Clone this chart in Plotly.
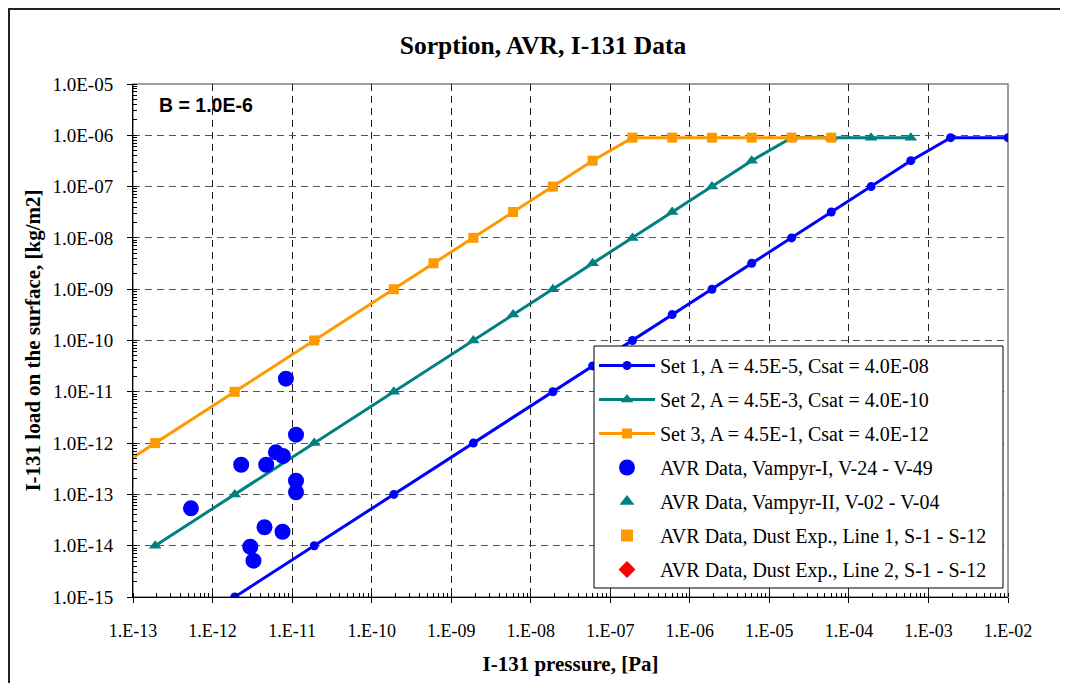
import plotly.graph_objects as go

# ---- data ----
set1_x = [1.9e-12, 1.9e-11, 1.9e-10, 1.9e-9, 1.9e-8, 6e-8, 1.9e-7, 6e-7, 1.9e-6, 6e-6,
          1.9e-5, 6e-5, 1.9e-4, 6e-4, 1.9e-3, 1e-2]
set1_y = [1e-15, 1e-14, 1e-13, 1e-12, 1e-11, 3.2e-11, 1e-10, 3.2e-10, 1e-9, 3.2e-9,
          1e-8, 3.2e-8, 1e-7, 3.2e-7, 9e-7, 9e-7]

set2_x = [1.9e-13, 1.9e-12, 1.9e-11, 1.9e-10, 1.9e-9, 6e-9, 1.9e-8, 6e-8, 1.9e-7, 6e-7,
          1.9e-6, 6e-6, 1.9e-5, 6e-5, 1.9e-4, 6e-4]
set2_y = [1e-14, 1e-13, 1e-12, 1e-11, 1e-10, 3.2e-10, 1e-9, 3.2e-9, 1e-8, 3.2e-8,
          1e-7, 3.2e-7, 9e-7, 9e-7, 9e-7, 9e-7]

set3_x = [1.9e-14, 1.9e-13, 1.9e-12, 1.9e-11, 1.9e-10, 6e-10, 1.9e-9, 6e-9, 1.9e-8, 6e-8,
          1.9e-7, 6e-7, 1.9e-6, 6e-6, 1.9e-5, 6e-5]
set3_y = [1e-13, 1e-12, 1e-11, 1e-10, 1e-9, 3.2e-9, 1e-8, 3.2e-8, 1e-7, 3.2e-7,
          9e-7, 9e-7, 9e-7, 9e-7, 9e-7, 9e-7]

avr1_x = [5.35e-13, 2.29e-12, 4.73e-12, 6.26e-12, 7.66e-12, 8.36e-12, 1.12e-11, 1.12e-11,
          1.12e-11, 4.50e-12, 7.58e-12, 2.98e-12, 3.27e-12]
avr1_y = [5.36e-14, 3.79e-13, 3.79e-13, 6.62e-13, 5.61e-13, 1.80e-11, 1.46e-12, 1.85e-13,
          1.10e-13, 2.29e-14, 1.87e-14, 9.55e-15, 5.10e-15]

x_tickvals = [1e-13, 1e-12, 1e-11, 1e-10, 1e-9, 1e-8, 1e-7, 1e-6, 1e-5, 1e-4, 1e-3, 1e-2]
x_ticktext = ["1.E-13", "1.E-12", "1.E-11", "1.E-10", "1.E-09", "1.E-08", "1.E-07",
              "1.E-06", "1.E-05", "1.E-04", "1.E-03", "1.E-02"]
y_tickvals = [1e-15, 1e-14, 1e-13, 1e-12, 1e-11, 1e-10, 1e-9, 1e-8, 1e-7, 1e-6, 1e-5]
y_ticktext = ["1.0E-15", "1.0E-14", "1.0E-13", "1.0E-12", "1.0E-11", "1.0E-10",
              "1.0E-09", "1.0E-08", "1.0E-07", "1.0E-06", "1.0E-05"]

names = ["Set 1, A = 4.5E-5, Csat = 4.0E-08",
         "Set 2, A = 4.5E-3, Csat = 4.0E-10",
         "Set 3, A = 4.5E-1, Csat = 4.0E-12",
         "AVR Data, Vampyr-I, V-24 - V-49",
         "AVR Data, Vampyr-II, V-02 - V-04",
         "AVR Data, Dust Exp., Line 1, S-1 - S-12",
         "AVR Data, Dust Exp., Line 2, S-1 - S-12"]

BLUE = "#0000FF"
TEAL = "#008080"
ORANGE = "#FF9900"
RED = "#FF0000"
SERIF = "Times New Roman, Liberation Serif, serif"

# page offset (html body margin) and plot area in page pixels
OFF = 8
W, H = 1068, 683
L, R, T, B = 133, 1008, 84, 597
PW, PH = R - L, B - T


def px(xp):
    return (xp - L) / PW


def py(yp):
    return (B - yp) / PH


fig = go.Figure()
fig.add_trace(go.Scatter(x=set1_x, y=set1_y, mode="lines+markers", name=names[0],
                         line=dict(color=BLUE, width=3),
                         marker=dict(symbol="circle", size=9, color=BLUE),
                         legendgroup="g1"))
fig.add_trace(go.Scatter(x=set2_x, y=set2_y, mode="lines+markers", name=names[1],
                         line=dict(color=TEAL, width=3),
                         marker=dict(symbol="triangle-up", size=11, color=TEAL),
                         legendgroup="g2"))
fig.add_trace(go.Scatter(x=set3_x, y=set3_y, mode="lines+markers", name=names[2],
                         line=dict(color=ORANGE, width=3),
                         marker=dict(symbol="square", size=10, color=ORANGE),
                         legendgroup="g3"))
fig.add_trace(go.Scatter(x=avr1_x, y=avr1_y, mode="markers", name=names[3],
                         marker=dict(symbol="circle", size=16, color=BLUE),
                         legendgroup="g4"))
fig.add_trace(go.Scatter(x=[None], y=[None], mode="markers", name=names[4],
                         marker=dict(symbol="triangle-up", size=13, color=TEAL),
                         legendgroup="g5"))
fig.add_trace(go.Scatter(x=[None], y=[None], mode="markers", name=names[5],
                         marker=dict(symbol="square", size=12, color=ORANGE),
                         legendgroup="g6"))
fig.add_trace(go.Scatter(x=[None], y=[None], mode="markers", name=names[6],
                         marker=dict(symbol="diamond", size=13, color=RED),
                         legendgroup="g7"))

fig.update_layout(
    width=W, height=H,
    margin=dict(l=L - OFF, r=W - R + OFF, t=T - OFF, b=H - B + OFF),
    paper_bgcolor="white", plot_bgcolor="white",
    font=dict(family=SERIF, size=18, color="black"),
    title=dict(text="Sorption, AVR, I-131 Data",
               font=dict(family=SERIF, size=25.5, color="black", weight="bold"),
               x=px(543), xref="paper", xanchor="center",
               y=1 - (45 - OFF) / H, yref="container", yanchor="middle"),
    showlegend=True,
    legend=dict(x=px(594), y=py(346), xanchor="left", yanchor="top",
                bgcolor="rgba(0,0,0,0)", borderwidth=0,
                font=dict(family=SERIF, size=20, color="black"),
                tracegroupgap=5, itemwidth=56),
    xaxis=dict(type="log", range=[-13, -2],
               tickvals=x_tickvals, ticktext=x_ticktext,
               ticks="outside", ticklen=5, tickcolor="black", tickwidth=1,
               ticklabelstandoff=12,
               tickfont=dict(family=SERIF, size=18, color="black"),
               showline=True, linecolor="black", linewidth=1,
               showgrid=True, gridcolor="#222222", gridwidth=1, griddash="7px,5px",
               minor=dict(dtick="D1", ticks="inside", ticklen=4, tickcolor="black",
                          showgrid=False),
               title=dict(text="I-131 pressure, [Pa]",
                          font=dict(family=SERIF, size=21, color="black", weight="bold"),
                          standoff=16),
               zeroline=False),
    yaxis=dict(type="log", range=[-15, -5],
               tickvals=y_tickvals, ticktext=y_ticktext,
               ticks="outside", ticklen=5, tickcolor="black", tickwidth=1,
               ticklabelstandoff=10,
               tickfont=dict(family=SERIF, size=19, color="black"),
               showline=True, linecolor="black", linewidth=1,
               showgrid=True, gridcolor="#555555", gridwidth=1, griddash="7px,5px",
               minor=dict(dtick="D1", ticks="inside", ticklen=4, tickcolor="black",
                          showgrid=False),
               title=dict(text="I-131 load on the surface, [kg/m2]",
                          font=dict(family=SERIF, size=21, color="black", weight="bold"),
                          standoff=6),
               zeroline=False),
)

# plot-area border (gray), legend box, outer chart border
fig.add_shape(type="rect", xref="paper", yref="paper", x0=0, x1=1, y0=0, y1=1,
              line=dict(color="#808080", width=1.5), layer="below")
fig.add_shape(type="rect", xref="paper", yref="paper",
              x0=px(594), x1=px(1003), y0=py(588), y1=py(346),
              fillcolor="white", line=dict(color="black", width=1), layer="above")
fig.add_shape(type="rect", xref="paper", yref="paper",
              x0=px(OFF + 1), x1=px(1100), y0=py(720), y1=py(OFF + 1),
              line=dict(color="#222222", width=2), layer="above")

fig.add_annotation(text="B = 1.0E-6", xref="paper", yref="paper",
                   x=px(157), y=py(105), xanchor="left", yanchor="middle",
                   showarrow=False,
                   font=dict(family="Arial, Liberation Sans, sans-serif", size=19.5,
                             color="black", weight="bold"))

fig.write_html("out.html")
